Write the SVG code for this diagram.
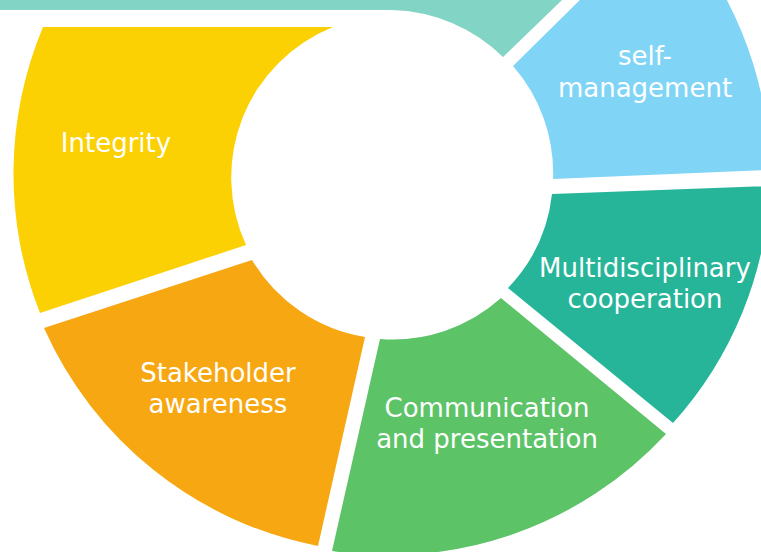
<svg xmlns="http://www.w3.org/2000/svg" width="761" height="552" viewBox="0 0 761 552">
<style>
.lbl{font-family:"DejaVu Sans","Liberation Sans",sans-serif;font-size:26px;fill:#ffffff;text-anchor:middle}
</style>
<rect width="761" height="552" fill="#ffffff"/>
<g id="connectors"></g>
<g id="top">
<path d="M0,0 L562,0 L503,57 A165,165 0 0,0 392,10 L0,10 Z" fill="#82D4C4"/>
</g>
<g id="self-management">
<path d="M513,66 L666,-85 A378,378 0 0,1 770,170 L553,179 A162,162 0 0,0 513,66 Z" fill="#80D5F7"/>
<text class="lbl" x="645" y="65">self-</text>
<text class="lbl" x="645" y="97">management</text>
</g>
<g id="multidisciplinary">
<path d="M552,194 L770,186 A378,378 0 0,1 673,423 L508,288 A162,162 0 0,0 552,194 Z" fill="#27B59A"/>
<text class="lbl" x="645" y="277">Multidisciplinary</text>
<text class="lbl" x="645" y="308">cooperation</text>
</g>
<g id="communication">
<path d="M380,339 A162,162 0 0,0 501,298 L666,434 A378,378 0 0,1 332,551 Z" fill="#5CC367"/>
<text class="lbl" x="487" y="417">Communication</text>
<text class="lbl" x="487" y="448">and presentation</text>
</g>
<g id="stakeholder">
<path d="M44,328 L252,260 A162,162 0 0,0 365,337 L318,546 A379,379 0 0,1 44,328 Z" fill="#F7A711"/>
<text class="lbl" x="218" y="382">Stakeholder</text>
<text class="lbl" x="218" y="413">awareness</text>
</g>
<g id="integrity">
<path d="M43,27 L333,27 A162,162 0 0,0 246,245 L40,313 A379,379 0 0,1 43,27 Z" fill="#FBD104"/>
<text class="lbl" x="116" y="152">Integrity</text>
</g>
</svg>
